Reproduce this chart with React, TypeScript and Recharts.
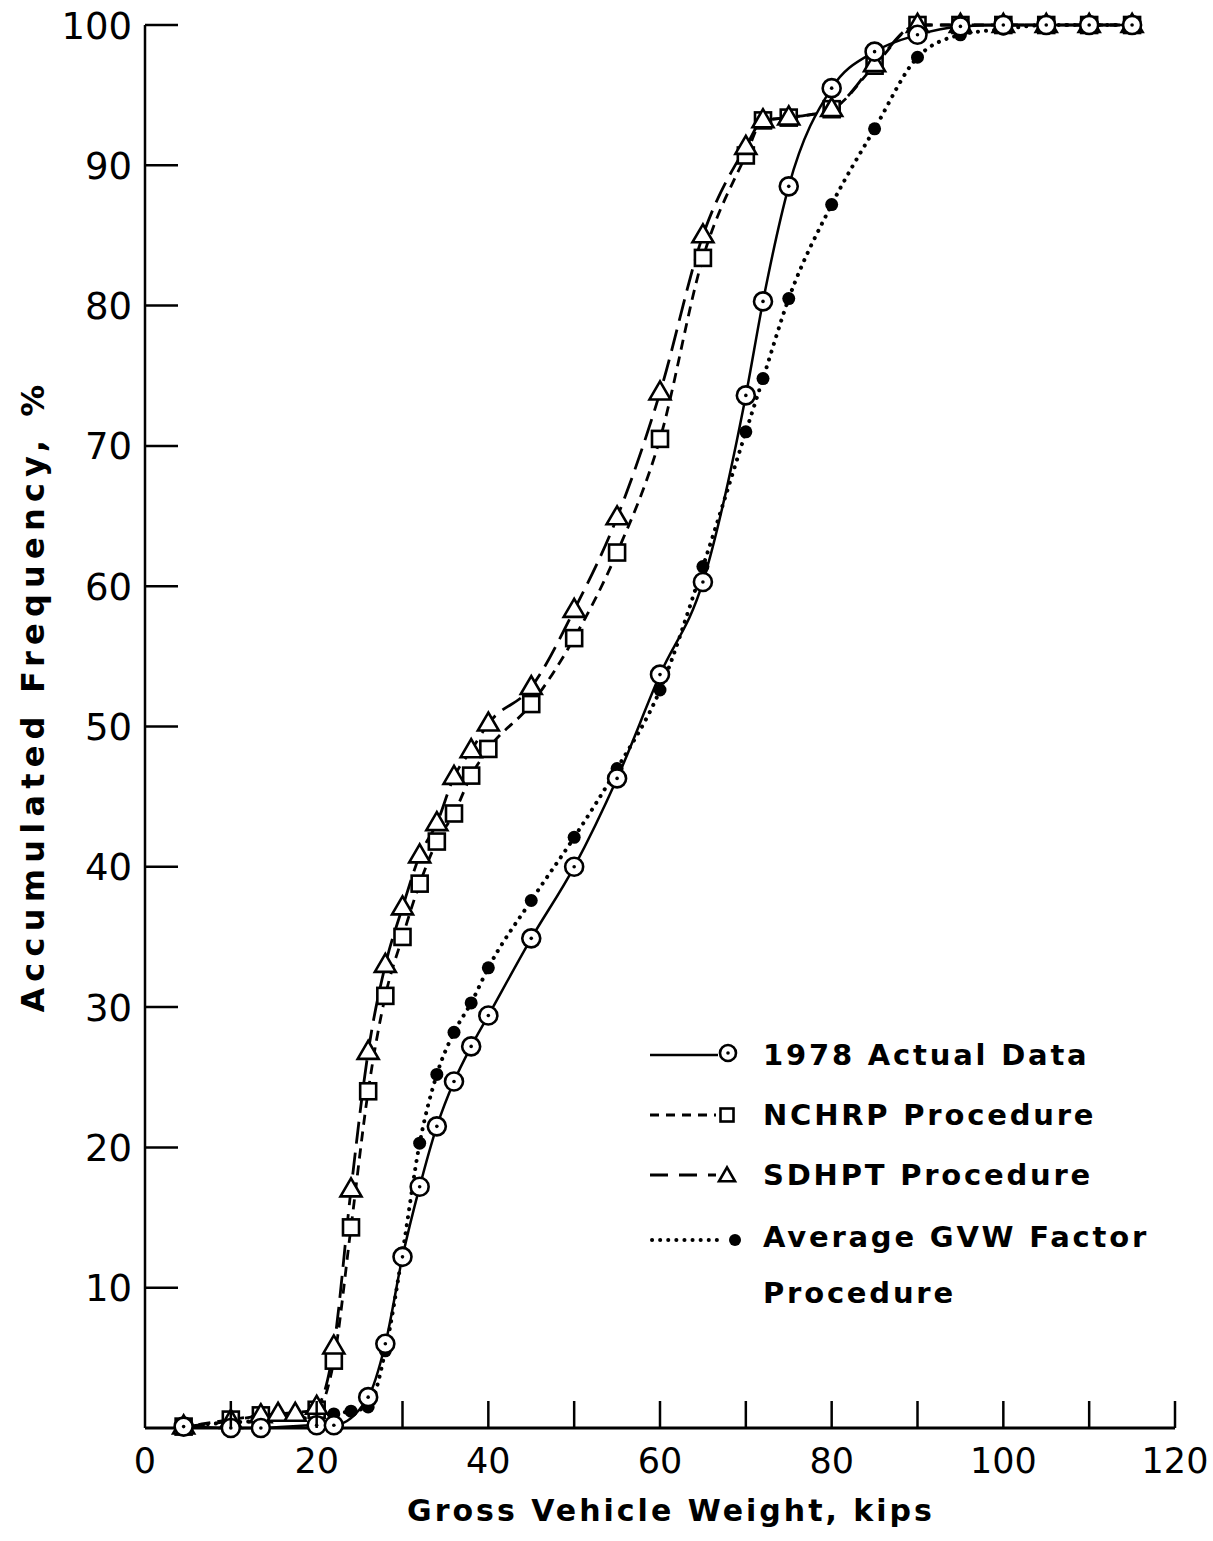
import React from "react";
import { LineChart, Line, XAxis, YAxis, Legend } from "recharts";

// Gross vehicle weight (kips) and accumulated frequency (%) for each procedure
const gvwActual = [4.5, 10, 13.5, 20, 22, 26, 28, 30, 32, 34, 36, 38, 40, 45, 50, 55, 60, 65, 70, 72, 75, 80, 85, 90, 95, 100, 105, 110, 115];
const freqActual = [0.1, 0, 0, 0.2, 0.2, 2.2, 6.0, 12.2, 17.2, 21.5, 24.7, 27.2, 29.4, 34.9, 40.0, 46.3, 53.7, 60.3, 73.6, 80.3, 88.5, 95.5, 98.1, 99.3, 99.9, 100, 100, 100, 100];

const gvwNchrp = [4.5, 10, 13.5, 20, 22, 24, 26, 28, 30, 32, 34, 36, 38, 40, 45, 50, 55, 60, 65, 70, 72, 75, 80, 85, 90, 95, 100, 105, 110, 115];
const freqNchrp = [0.1, 0.6, 0.9, 1.3, 4.8, 14.3, 24.0, 30.8, 35.0, 38.8, 41.8, 43.8, 46.5, 48.4, 51.6, 56.3, 62.4, 70.5, 83.4, 90.7, 93.2, 93.4, 94.0, 97.1, 100, 100, 100, 100, 100, 100];

const gvwSdhpt = [4.5, 10, 13.5, 15.5, 17.5, 20, 22, 24, 26, 28, 30, 32, 34, 36, 38, 40, 45, 50, 55, 60, 65, 70, 72, 75, 80, 85, 90, 95, 100, 105, 110, 115];
const freqSdhpt = [0.1, 0.5, 0.9, 1.0, 1.0, 1.5, 5.8, 17.0, 26.8, 33.0, 37.1, 40.8, 43.1, 46.4, 48.3, 50.2, 52.8, 58.3, 64.9, 73.8, 85.0, 91.3, 93.2, 93.4, 94.0, 97.2, 100, 100, 100, 100, 100, 100];

const gvwAvg = [4.5, 10, 13.5, 20, 22, 24, 26, 28, 30, 32, 34, 36, 38, 40, 45, 50, 55, 60, 65, 70, 72, 75, 80, 85, 90, 95, 100, 105, 110, 115];
const freqAvg = [0.1, 0.4, 0.5, 0.8, 1.0, 1.2, 1.5, 5.5, 12.5, 20.3, 25.2, 28.2, 30.3, 32.8, 37.6, 42.1, 47.0, 52.6, 61.4, 71.0, 74.8, 80.5, 87.2, 92.6, 97.7, 99.3, 99.7, 100, 100, 100];

const xTicks = [0, 10, 20, 30, 40, 50, 60, 70, 80, 90, 100, 110, 120];
const yTicks = [0, 10, 20, 30, 40, 50, 60, 70, 80, 90, 100];

const legendLabels = ["1978 Actual Data", "NCHRP Procedure", "SDHPT Procedure", "Average GVW Factor", "Procedure"];

const toRows = (xs: number[], ys: number[]) => xs.map((x, i) => ({ x, y: ys[i] }));

const dataActual = toRows(gvwActual, freqActual);
const dataNchrp = toRows(gvwNchrp, freqNchrp);
const dataSdhpt = toRows(gvwSdhpt, freqSdhpt);
const dataAvg = toRows(gvwAvg, freqAvg);

const FONT = "'DejaVu Sans', sans-serif";
const INK = "#000";

const CircleMark = ({ cx, cy, r = 9 }: any) => (
  <g>
    <circle cx={cx} cy={cy} r={r} fill="#fff" stroke={INK} strokeWidth={2.6} />
    <circle cx={cx} cy={cy} r={1.8} fill={INK} />
  </g>
);

const SquareMark = ({ cx, cy, s = 16 }: any) => (
  <rect x={cx - s / 2} y={cy - s / 2} width={s} height={s} fill="#fff" stroke={INK} strokeWidth={2.6} />
);

const TriangleMark = ({ cx, cy, w = 21, h = 18 }: any) => (
  <polygon
    points={`${cx},${cy - h * 0.62} ${cx - w / 2},${cy + h * 0.38} ${cx + w / 2},${cy + h * 0.38}`}
    fill="#fff"
    stroke={INK}
    strokeWidth={2.6}
    strokeLinejoin="miter"
  />
);

const DiscMark = ({ cx, cy, r = 6.5 }: any) => <circle cx={cx} cy={cy} r={r} fill={INK} />;

const renderCircle = (p: any) => <CircleMark key={`c-${p.index}`} cx={p.cx} cy={p.cy} />;
const renderSquare = (p: any) => <SquareMark key={`s-${p.index}`} cx={p.cx} cy={p.cy} />;
const renderTriangle = (p: any) => <TriangleMark key={`t-${p.index}`} cx={p.cx} cy={p.cy} />;
const renderDisc = (p: any) => <DiscMark key={`d-${p.index}`} cx={p.cx} cy={p.cy} />;

const XTick = ({ x, y, payload }: any) => {
  const v = payload.value;
  return (
    <g>
      {v > 0 && <line x1={x} x2={x} y1={y} y2={y - 27} stroke={INK} strokeWidth={2.5} />}
      {v % 20 === 0 && (
        <text x={x} y={y + 33} textAnchor="middle" dominantBaseline="central" fontFamily={FONT} fontSize={35} fill={INK}>
          {v}
        </text>
      )}
    </g>
  );
};

const YTick = ({ x, y, payload }: any) => {
  const v = payload.value;
  if (v === 0) return <g />;
  return (
    <g>
      <line x1={x} x2={x + 33} y1={y} y2={y} stroke={INK} strokeWidth={2.5} />
      <text x={x - 13} y={y + 1} textAnchor="end" dominantBaseline="central" fontFamily={FONT} fontSize={37} fill={INK}>
        {v}
      </text>
    </g>
  );
};

const LegendBox = () => {
  const rowY = [35, 95, 155, 217, 273];
  const textX = 123;
  const textStyle = { fontFamily: FONT, fontSize: 29, fontWeight: 700, letterSpacing: 2.8 } as const;
  return (
    <svg width={570} height={300} style={{ display: "block" }}>
      <line x1={10} x2={78} y1={rowY[0]} y2={rowY[0]} stroke={INK} strokeWidth={2.5} />
      <CircleMark cx={88} cy={rowY[0] - 2} r={8} />
      <line x1={10} x2={76} y1={rowY[1]} y2={rowY[1]} stroke={INK} strokeWidth={2.8} strokeDasharray="9 7" />
      <SquareMark cx={87} cy={rowY[1]} s={13} />
      <line x1={10} x2={76} y1={rowY[2]} y2={rowY[2]} stroke={INK} strokeWidth={2.8} strokeDasharray="18 11" />
      <TriangleMark cx={87} cy={rowY[2] + 1} w={16} h={14} />
      <line x1={12} x2={84} y1={rowY[3] + 3} y2={rowY[3] + 3} stroke={INK} strokeWidth={4} strokeDasharray="0.1 8" strokeLinecap="round" />
      <DiscMark cx={95} cy={rowY[3] + 3} r={6} />
      {legendLabels.map((t, i) => (
        <text key={t} x={textX} y={rowY[i]} dominantBaseline="central" fill={INK} {...textStyle}>
          {t}
        </text>
      ))}
    </svg>
  );
};

export default function App() {
  return (
    <div style={{ position: "absolute", left: 0, top: 0, background: "#fff" }}>
      <LineChart width={1213} height={1541} margin={{ top: 25, right: 38, bottom: 0, left: 0 }}>
        <XAxis
          type="number"
          dataKey="x"
          domain={[0, 120]}
          ticks={xTicks}
          interval={0}
          height={113}
          tickSize={0}
          tickMargin={0}
          tickLine={false}
          tick={<XTick />}
          axisLine={{ stroke: INK, strokeWidth: 3 }}
          allowDuplicatedCategory={false}
          label={{
            content: ({ viewBox }: any) => (
              <text
                x={viewBox.x + viewBox.width / 2 + 11}
                y={viewBox.y + 82}
                textAnchor="middle"
                dominantBaseline="central"
                fontFamily={FONT}
                fontSize={30}
                fontWeight={700}
                letterSpacing={3}
                fill={INK}
              >
                Gross Vehicle Weight, kips
              </text>
            ),
          }}
        />
        <YAxis
          type="number"
          dataKey="y"
          domain={[0, 100]}
          ticks={yTicks}
          interval={0}
          width={145}
          tickSize={0}
          tickMargin={0}
          tickLine={false}
          tick={<YTick />}
          axisLine={{ stroke: INK, strokeWidth: 2.5 }}
          label={{
            content: ({ viewBox }: any) => {
              const cx = viewBox.x + 33;
              const cy = viewBox.y + viewBox.height / 2 - 31;
              return (
                <text
                  x={cx}
                  y={cy}
                  transform={`rotate(-90, ${cx}, ${cy})`}
                  textAnchor="middle"
                  dominantBaseline="central"
                  fontFamily={FONT}
                  fontSize={32}
                  fontWeight={700}
                  letterSpacing={6.2}
                  fill={INK}
                >
                  Accumulated Frequency, %
                </text>
              );
            },
          }}
        />
        <Legend
          layout="vertical"
          align="center"
          verticalAlign="middle"
          content={<LegendBox />}
          wrapperStyle={{ position: "absolute", left: 640, top: 1020, width: 570 }}
        />
        <Line
          data={dataAvg}
          dataKey="y"
          name="Average GVW Factor Procedure"
          type="monotone"
          stroke={INK}
          strokeWidth={4}
          strokeDasharray="0.1 8"
          strokeLinecap="round"
          dot={renderDisc}
          activeDot={false}
          isAnimationActive={false}
        />
        <Line
          data={dataNchrp}
          dataKey="y"
          name="NCHRP Procedure"
          type="monotone"
          stroke={INK}
          strokeWidth={2.8}
          strokeDasharray="10 7"
          dot={renderSquare}
          activeDot={false}
          isAnimationActive={false}
        />
        <Line
          data={dataSdhpt}
          dataKey="y"
          name="SDHPT Procedure"
          type="monotone"
          stroke={INK}
          strokeWidth={2.8}
          strokeDasharray="22 9"
          dot={renderTriangle}
          activeDot={false}
          isAnimationActive={false}
        />
        <Line
          data={dataActual}
          dataKey="y"
          name="1978 Actual Data"
          type="monotone"
          stroke={INK}
          strokeWidth={2.5}
          dot={renderCircle}
          activeDot={false}
          isAnimationActive={false}
        />
      </LineChart>
    </div>
  );
}
